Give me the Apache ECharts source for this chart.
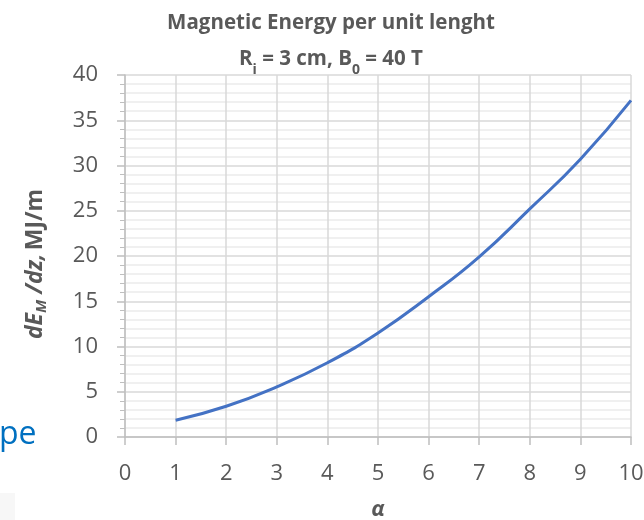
<!DOCTYPE html>
<html>
<head>
<meta charset="utf-8">
<script src="https://cdn.jsdelivr.net/npm/echarts@6/dist/echarts.min.js"></script>
<style>
  html, body { margin: 0; padding: 0; background: #fff; }
  #main { width: 644px; height: 520px; }
</style>
</head>
<body>
<div id="main"></div>
<script>
// alpha values and energy per unit length (MJ/m)
const alpha = [1, 2, 3, 4, 5, 6, 7, 8, 9, 10];
const energy = [1.85, 3.4, 5.55, 8.2, 11.5, 15.5, 19.9, 25.2, 30.7, 37.2];
const xTicks = [0, 10, 1];   // min, max, interval
const yTicks = [0, 40, 5];

const gray = "#595959";
const font = "Open Sans";

const myChart = echarts.init(document.getElementById("main"));

const option = {
  animation: false,
  textStyle: { fontFamily: font },
  title: {
    left: 326,
    top: 0,
    textAlign: "center",
    text: "Magnetic Energy per unit lenght\n{a|R}{s|i}{a| = 3 cm, B}{s|0}{a| = 40 T}",
    textStyle: {
      color: gray,
      fontSize: 20.5,
      fontWeight: "bold",
      lineHeight: 36,
      rich: {
        a: { color: gray, fontSize: 20.5, fontWeight: "bold", fontFamily: font },
        s: { color: gray, fontSize: 14, fontWeight: "bold", fontFamily: font, verticalAlign: "bottom", padding: [6, 0, 0, 0] }
      }
    }
  },
  grid: { left: 125, right: 13, top: 75, bottom: 83, outerBoundsMode: "none" },
  xAxis: {
    type: "value",
    min: xTicks[0],
    max: xTicks[1],
    interval: xTicks[2],
    name: "α",
    nameLocation: "middle",
    nameGap: 62,
    nameTextStyle: { color: gray, fontSize: 22, fontWeight: "bold", fontStyle: "italic" },
    axisLine: { lineStyle: { color: "#bfbfbf", width: 1.5 } },
    axisTick: { show: true, length: 8, lineStyle: { color: "#bfbfbf", width: 1.5 } },
    axisLabel: { color: gray, fontSize: 22, margin: 26 },
    splitLine: { show: true, lineStyle: { color: "#d9d9d9", width: 1.5 } }
  },
  yAxis: {
    type: "value",
    min: yTicks[0],
    max: yTicks[1],
    interval: yTicks[2],
    name: "{i|dE}{is|M}{i| /dz,} {b|MJ/m}",
    nameLocation: "middle",
    nameGap: 76,
    nameTextStyle: {
      padding: [0, 16, 0, 0],
      rich: {
        i: { color: gray, fontSize: 23, fontWeight: "bold", fontStyle: "italic", fontFamily: font },
        is: { color: gray, fontSize: 15, fontWeight: "bold", fontStyle: "italic", fontFamily: font, verticalAlign: "bottom", padding: [12, 0, 0, 0] },
        b: { color: gray, fontSize: 23, fontWeight: "bold", fontFamily: font }
      }
    },
    axisLine: { show: true, lineStyle: { color: "#bfbfbf", width: 1.5 } },
    axisTick: { show: true, length: 8, lineStyle: { color: "#bfbfbf", width: 1.5 } },
    minorTick: { show: true, splitNumber: 5, length: 5, lineStyle: { color: "#bfbfbf", width: 1 } },
    axisLabel: { color: gray, fontSize: 22, margin: 27 },
    splitLine: { show: true, lineStyle: { color: "#d9d9d9", width: 1.5 } },
    minorSplitLine: { show: true, lineStyle: { color: "#ececec", width: 1.5 } }
  },
  series: [
    {
      type: "line",
      data: alpha.map((a, i) => [a, energy[i]]),
      smooth: true,
      showSymbol: false,
      lineStyle: { color: "#4472c4", width: 3 }
    }
  ],
  graphic: [
    {
      type: "text",
      left: -1,
      top: 419,
      style: { text: "pe", fill: "#0070c0", fontSize: 32, fontFamily: font }
    },
    {
      type: "rect",
      shape: { x: 0, y: 493, width: 15, height: 27 },
      style: { fill: "#f7f7f7" }
    }
  ]
};

myChart.setOption(option);
</script>
</body>
</html>
